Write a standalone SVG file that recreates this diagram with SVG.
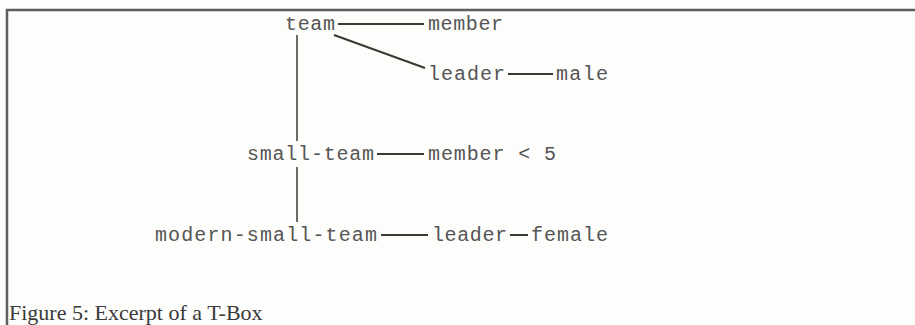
<svg xmlns="http://www.w3.org/2000/svg" width="915" height="325" viewBox="0 0 915 325">
  <style>
    .t { font-family: "Liberation Mono", "DejaVu Sans Mono", monospace; font-size: 20px; fill: #555; }
    .cap { font-family: "Liberation Serif", "Times New Roman", serif; font-size: 22px; fill: #3a3a3a; }
    .ln { stroke: #3a3a32; stroke-width: 2; fill: none; }
    .isa { stroke: #3a3a32; stroke-width: 1.5; fill: none; }
    .frame { stroke: #5a5e5c; stroke-width: 2.5; fill: none; }
  </style>
  <rect width="915" height="325" fill="#fdfdfb"/>
  <!-- frame: top and left rules -->
  <path class="frame" d="M7 325 V10 H915"/>

  <g id="connectors">
    <line class="ln" x1="338" y1="24" x2="424" y2="24"/>
    <line class="ln" x1="334" y1="35" x2="425" y2="68"/>
    <line class="ln" x1="508" y1="74" x2="553" y2="74"/>
    <line class="isa" x1="297" y1="35" x2="297" y2="141"/>
    <line class="ln" x1="377" y1="154" x2="424" y2="154"/>
    <line class="isa" x1="297" y1="167" x2="297" y2="222"/>
    <line class="ln" x1="381" y1="235" x2="428" y2="235"/>
    <line class="ln" x1="510" y1="235" x2="528" y2="235"/>
  </g>

  <g id="team"><text class="t" x="285" y="30" textLength="50">team</text></g>
  <g id="team-member"><text class="t" x="428" y="30" textLength="75">member</text></g>
  <g id="team-leader"><text class="t" x="428" y="80" textLength="77">leader</text></g>
  <g id="male"><text class="t" x="556" y="80" textLength="52">male</text></g>
  <g id="small-team"><text class="t" x="247" y="160" textLength="127">small-team</text></g>
  <g id="member-lt-5"><text class="t" x="428" y="160" textLength="128">member &lt; 5</text></g>
  <g id="modern-small-team"><text class="t" x="155" y="241" textLength="222">modern-small-team</text></g>
  <g id="mst-leader"><text class="t" x="432" y="241" textLength="75">leader</text></g>
  <g id="female"><text class="t" x="531" y="241" textLength="77">female</text></g>

  <text class="cap" x="9" y="320">Figure 5: Excerpt of a T-Box</text>
</svg>
